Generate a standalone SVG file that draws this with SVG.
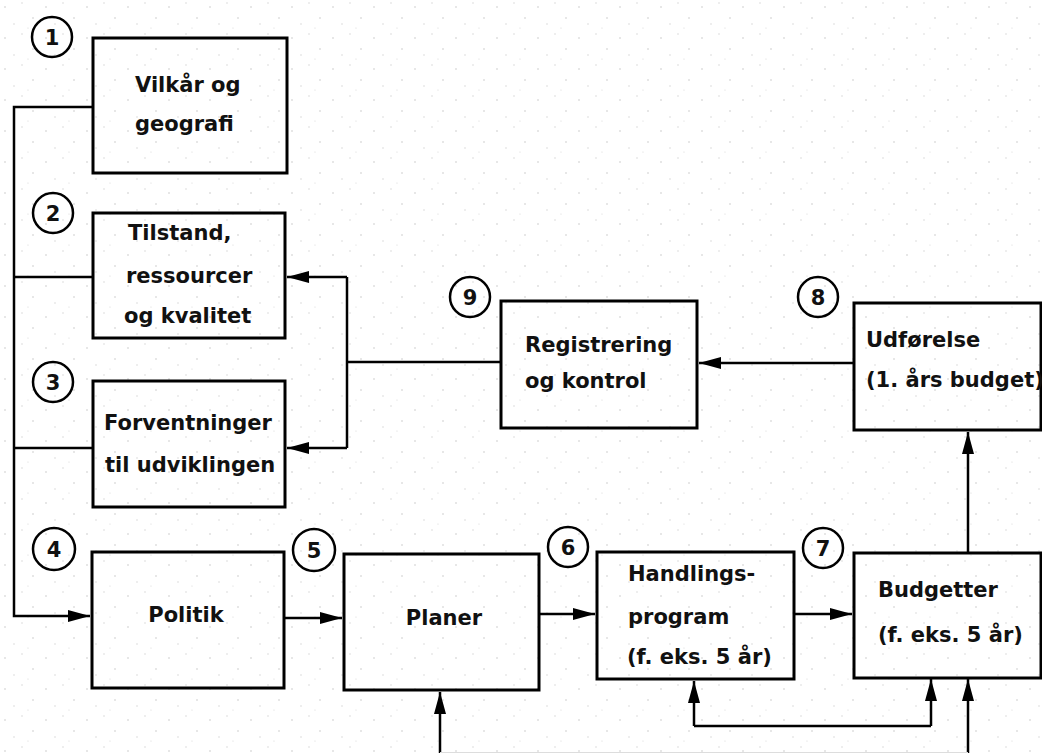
<svg xmlns="http://www.w3.org/2000/svg" width="1042" height="753" viewBox="0 0 1042 753">
<defs>
<style>
.box{fill:none;stroke:#000;stroke-width:3}
.num{fill:none;stroke:#000;stroke-width:2.5}
.ln{fill:none;stroke:#000;stroke-width:2.5}
.t{font-family:"DejaVu Sans","Liberation Sans",sans-serif;font-weight:bold;font-size:21px;fill:#111}
.n{font-family:"DejaVu Sans","Liberation Sans",sans-serif;font-weight:bold;font-size:21px;fill:#111;text-anchor:middle}
</style>
<marker id="ah" markerUnits="userSpaceOnUse" markerWidth="24" markerHeight="14" refX="22" refY="7" orient="auto">
<path d="M0,1 L22,7 L0,13 z" fill="#000"/>
</marker>
<pattern id="dots" width="41" height="31" patternUnits="userSpaceOnUse">
<circle cx="5" cy="7" r="0.8" fill="#c8c8c8"/>
<circle cx="22" cy="3" r="0.7" fill="#cfcfcf"/>
<circle cx="33" cy="18" r="0.8" fill="#c8c8c8"/>
<circle cx="14" cy="24" r="0.7" fill="#d0d0d0"/>
<circle cx="28" cy="28" r="0.6" fill="#d4d4d4"/>
</pattern>
</defs>
<rect width="1042" height="753" fill="#fff"/>
<rect width="1042" height="753" fill="url(#dots)"/>

<g id="connectors">
<path class="ln" d="M93,107 H14 V616 H90" marker-end="url(#ah)"/>
<path class="ln" d="M93,277 H14"/>
<path class="ln" d="M93,448 H14"/>
<path class="ln" d="M347,277 H287" marker-end="url(#ah)"/>
<path class="ln" d="M347,448 H287" marker-end="url(#ah)"/>
<path class="ln" d="M347,277 V448"/>
<path class="ln" d="M347,362 H501"/>
<path class="ln" d="M854,363 H699" marker-end="url(#ah)"/>
<path class="ln" d="M968,553 V432" marker-end="url(#ah)"/>
<path class="ln" d="M284,618 H342" marker-end="url(#ah)"/>
<path class="ln" d="M539,614 H595" marker-end="url(#ah)"/>
<path class="ln" d="M794,614 H852" marker-end="url(#ah)"/>
<path class="ln" d="M440,753 V692" marker-end="url(#ah)"/>
<path class="ln" d="M694,726 V681" marker-end="url(#ah)"/>
<path class="ln" d="M694,726 H931"/>
<path class="ln" d="M931,726 V679" marker-end="url(#ah)"/>
<path class="ln" d="M968,753 V679" marker-end="url(#ah)"/>
<path d="M440,752.5 H968" stroke="#ddd" stroke-width="1" fill="none"/>
</g>

<g id="n1">
<circle class="num" cx="52" cy="37" r="20"/>
<text class="n" x="52" y="45">1</text>
<rect class="box" x="93" y="38" width="194" height="135"/>
<text class="t" x="135" y="92">Vilkår og</text>
<text class="t" x="135" y="131">geografi</text>
</g>

<g id="n2">
<circle class="num" cx="53" cy="213" r="20"/>
<text class="n" x="53" y="221">2</text>
<rect class="box" x="93" y="213" width="192" height="125"/>
<text class="t" x="128" y="240">Tilstand,</text>
<text class="t" x="126" y="283">ressourcer</text>
<text class="t" x="124" y="323">og kvalitet</text>
</g>

<g id="n3">
<circle class="num" cx="53" cy="382" r="20"/>
<text class="n" x="53" y="390">3</text>
<rect class="box" x="93" y="381" width="192" height="126"/>
<text class="t" x="104" y="430">Forventninger</text>
<text class="t" x="105" y="472">til udviklingen</text>
</g>

<g id="n4">
<circle class="num" cx="54" cy="549" r="21"/>
<text class="n" x="54" y="557">4</text>
<rect class="box" x="92" y="552" width="192" height="136"/>
<text class="t" x="186" y="622" text-anchor="middle">Politik</text>
</g>

<g id="n5">
<circle class="num" cx="314" cy="550" r="21"/>
<text class="n" x="314" y="558">5</text>
<rect class="box" x="344" y="554" width="195" height="136"/>
<text class="t" x="444" y="625" text-anchor="middle">Planer</text>
</g>

<g id="n6">
<circle class="num" cx="568" cy="547" r="20"/>
<text class="n" x="568" y="555">6</text>
<rect class="box" x="597" y="552" width="197" height="127"/>
<text class="t" x="628" y="581">Handlings-</text>
<text class="t" x="628" y="624">program</text>
<text class="t" x="627" y="664">(f. eks. 5 år)</text>
</g>

<g id="n7">
<circle class="num" cx="823" cy="548" r="20"/>
<text class="n" x="823" y="556">7</text>
<rect class="box" x="854" y="553" width="187" height="125"/>
<text class="t" x="878" y="597">Budgetter</text>
<text class="t" x="878" y="642">(f. eks. 5 år)</text>
</g>

<g id="n8">
<circle class="num" cx="818" cy="297" r="20"/>
<text class="n" x="818" y="305">8</text>
<rect class="box" x="854" y="303" width="187" height="127"/>
<text class="t" x="866" y="347">Udførelse</text>
<text class="t" x="866" y="387">(1. års budget)</text>
</g>

<g id="n9">
<circle class="num" cx="470" cy="297" r="20"/>
<text class="n" x="470" y="305">9</text>
<rect class="box" x="501" y="301" width="196" height="127"/>
<text class="t" x="525" y="352">Registrering</text>
<text class="t" x="525" y="388">og kontrol</text>
</g>
</svg>
